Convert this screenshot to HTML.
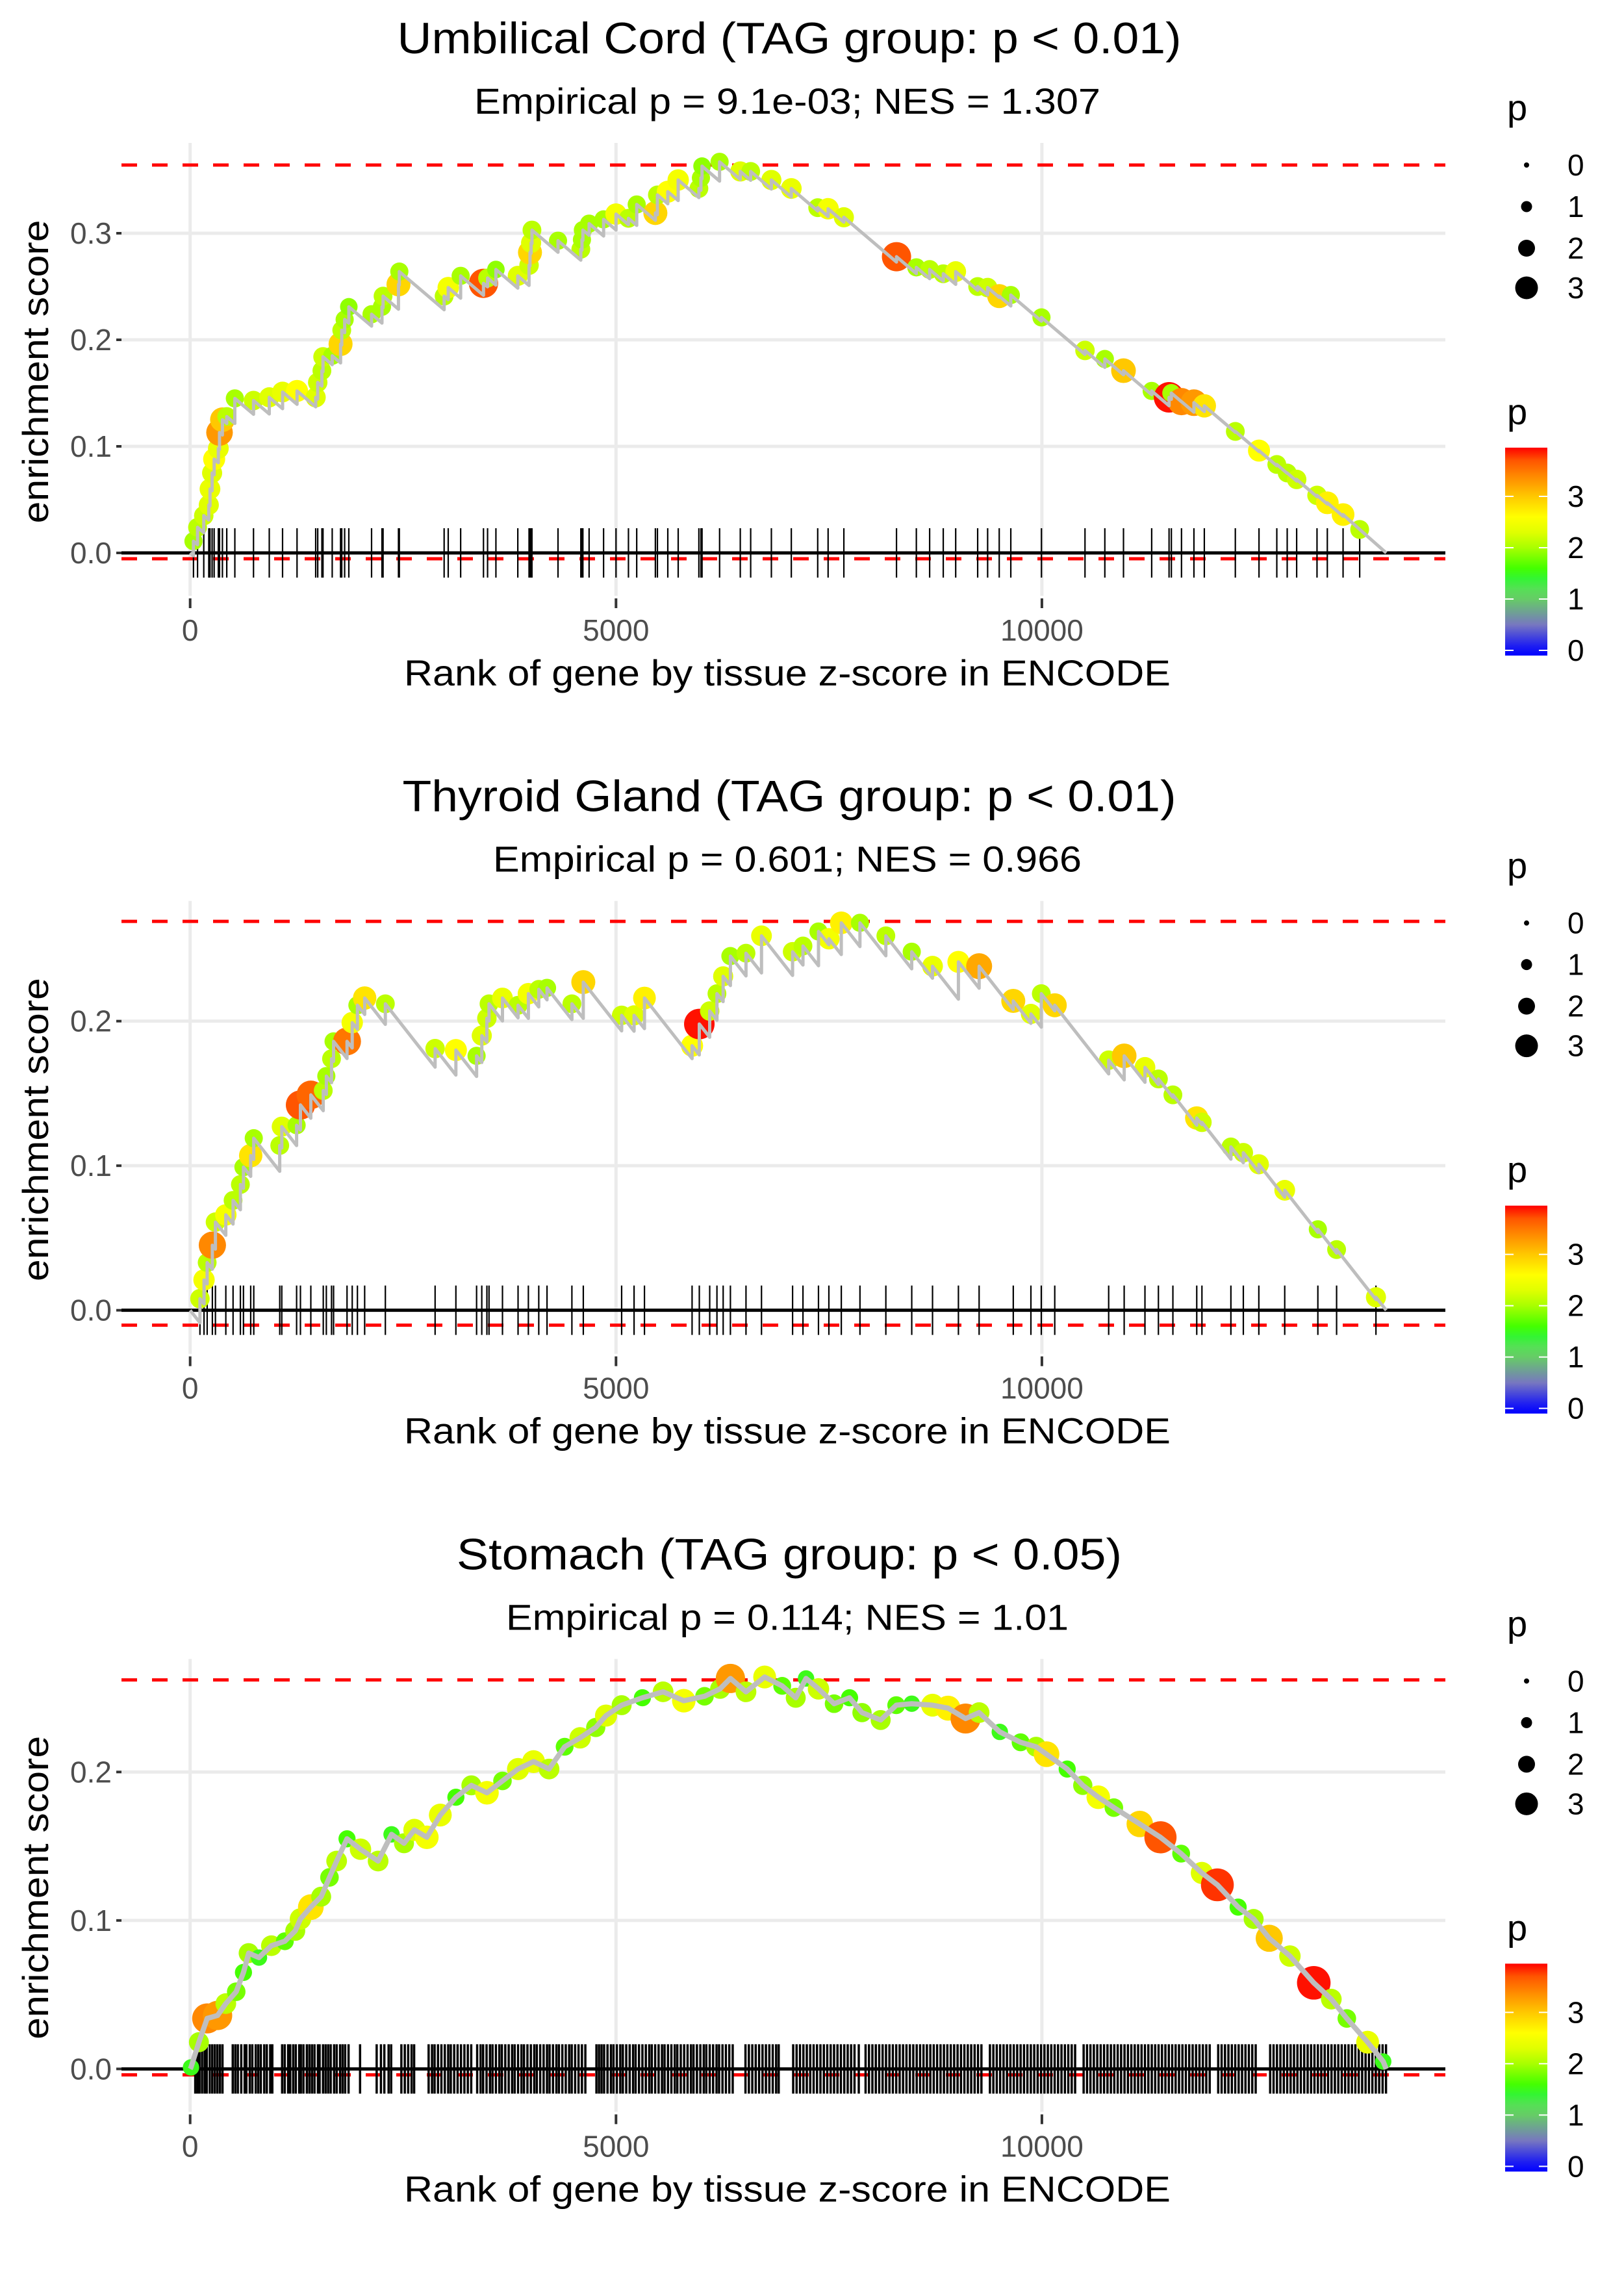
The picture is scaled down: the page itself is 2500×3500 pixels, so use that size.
<!DOCTYPE html>
<html><head><meta charset="utf-8"><title>Enrichment plots</title>
<style>
html,body{margin:0;padding:0;background:#fff;}
svg{display:block;font-family:"Liberation Sans",Arial,sans-serif;}
</style></head>
<body>
<svg id="chart" xmlns="http://www.w3.org/2000/svg" width="2500" height="3500" viewBox="0 0 2500 3500">
<defs>
<linearGradient id="pgrad" x1="0" y1="1" x2="0" y2="0"></linearGradient>
</defs>
<rect x="0" y="0" width="2500" height="3500" fill="#fff"/>
</svg>
<script>
// ---------- data ----------
const titles = ["Umbilical Cord (TAG group: p < 0.01)", "Thyroid Gland (TAG group: p < 0.01)", "Stomach (TAG group: p < 0.05)"];
const subtitles = ["Empirical p = 9.1e-03; NES = 1.307", "Empirical p = 0.601; NES = 0.966", "Empirical p = 0.114; NES = 1.01"];
const xTickValues = [0, 5000, 10000];
const xTickLabels = ["0", "5000", "10000"];
const yTicks1 = [0, 0.1, 0.2, 0.3];
const yTicks2 = [0, 0.1, 0.2];
const yTicks3 = [0, 0.1, 0.2];
const yTickLabels1 = ["0.0", "0.1", "0.2", "0.3"];
const yTickLabels2 = ["0.0", "0.1", "0.2"];
const yTickLabels3 = ["0.0", "0.1", "0.2"];
const nGenes = 14043;
const maxES = [0.364, 0.269, 0.262];
const minES = [-0.0055, -0.0103, -0.004];
const declinePerRank = [6.8e-5, 7.5e-5, null];

const ranks1 = [39,87,160,219,233,258,282,331,345,379,430,525,744,929,1085,1255,1474,1498,1547,1560,1668,1766,1780,1814,1863,2130,2252,2265,2446,2456,2982,3030,3176,3444,3492,3590,3847,3979,3990,4003,4013,4319,4587,4600,4611,4684,4854,5000,5146,5243,5462,5486,5608,5730,5973,5997,6010,6216,6459,6581,6824,7058,7368,7490,7675,8293,8526,8682,8842,8988,9246,9363,9499,9635,9995,10506,10739,10958,11289,11493,11520,11639,11785,11907,12271,12549,12758,12880,12991,13230,13351,13536,13731];
const es1 = [.011,.024,.035,.045,.060,.075,.088,.098,.113,.125,.128,.145,.143,.146,.151,.152,.146,.160,.171,.184,.185,.196,.209,.219,.231,.224,.231,.241,.252,.264,.241,.249,.260,.253,.258,.266,.260,.270,.282,.291,.303,.293,.285,.294,.303,.309,.313,.318,.314,.327,.319,.336,.339,.350,.342,.352,.363,.367,.358,.358,.350,.342,.324,.323,.315,.278,.268,.266,.262,.264,.250,.249,.241,.242,.221,.190,.182,.171,.152,.146,.150,.142,.141,.138,.114,.096,.083,.075,.069,.054,.047,.036,.022];
const p1 = [2.0,2.1,2.2,2.3,2.4,2.3,2.6,2.4,3.3,3.0,2.1,2.0,2.2,2.3,2.4,2.6,2.3,2.2,2.1,2.2,2.0,2.9,2.1,2.0,1.9,2.0,2.0,2.1,2.9,2.0,2.1,2.5,2.0,3.7,2.1,1.9,2.3,2.2,2.9,2.3,2.1,2.0,2.1,2.0,2.0,2.0,2.0,2.5,2.1,2.0,2.9,2.1,2.6,2.5,2.1,2.0,1.9,2.0,2.3,2.1,2.3,2.4,2.1,2.5,2.3,3.7,2.0,2.1,2.1,2.4,2.1,2.2,2.9,2.0,2.0,2.2,2.0,3.0,2.0,3.9,2.0,3.4,3.3,2.8,2.1,2.6,2.1,2.1,2.2,2.2,2.7,2.7,2.1];

const ranks2 = [115,163,200,261,297,419,504,590,626,711,747,1052,1076,1250,1295,1417,1563,1599,1660,1684,1842,1903,1964,2049,2292,2876,3120,3363,3424,3484,3509,3667,3850,3971,4093,4190,4482,4616,5066,5212,5334,5893,5978,6100,6185,6258,6343,6526,6708,7073,7195,7377,7499,7645,7864,8168,8472,8716,9020,9263,9664,9871,9993,10151,10784,10966,11210,11368,11538,11818,11879,12219,12365,12547,12851,13240,13460,13922];
const es2 = [.008,.021,.033,.045,.061,.066,.076,.087,.099,.107,.119,.114,.127,.128,.142,.149,.152,.162,.174,.186,.186,.199,.211,.216,.212,.181,.180,.176,.190,.202,.212,.216,.211,.219,.222,.223,.212,.227,.204,.204,.216,.183,.198,.207,.219,.231,.245,.247,.259,.248,.252,.262,.257,.268,.268,.259,.248,.238,.241,.238,.214,.205,.219,.211,.173,.176,.168,.160,.149,.133,.130,.113,.109,.101,.083,.056,.042,.009];
const p2 = [2.2,2.5,2.1,3.4,2.2,2.5,2.1,2.1,2.0,2.8,2.0,2.1,2.3,2.0,3.7,3.6,2.1,2.0,2.1,2.0,3.5,2.5,2.0,2.8,2.1,2.2,2.6,2.0,2.3,2.2,2.1,2.4,2.1,2.5,2.1,2.0,2.1,2.9,2.2,2.3,2.7,2.6,3.9,2.2,2.1,2.3,2.0,2.1,2.4,2.2,2.1,2.0,2.5,2.7,2.0,2.1,2.0,2.4,2.6,3.2,2.9,2.3,2.1,2.9,2.2,3.0,2.4,2.1,2.1,2.8,2.2,2.1,2.2,2.3,2.4,2.0,2.1,2.3];

const ranks3 = [10,103,200,322,419,541,626,687,808,954,1112,1234,1295,1417,1538,1636,1720,1842,2000,2207,2365,2511,2633,2779,2937,3120,3302,3485,3667,3850,4032,4214,4397,4579,4762,4883,5066,5310,5553,5796,6039,6222,6343,6526,6745,6951,7110,7231,7377,7560,7742,7888,8107,8290,8472,8716,8898,9104,9263,9506,9750,9932,10054,10297,10480,10662,10845,11149,11392,11635,11878,12060,12304,12486,12669,12912,13192,13398,13580,13824,14007];
const es3 = [.001,.018,.034,.036,.044,.052,.065,.078,.075,.083,.086,.093,.101,.109,.116,.129,.140,.155,.148,.140,.158,.152,.161,.156,.171,.183,.191,.186,.194,.202,.207,.202,.217,.223,.230,.238,.245,.250,.254,.248,.251,.256,.263,.254,.264,.258,.250,.263,.256,.246,.250,.240,.235,.245,.246,.245,.243,.236,.240,.227,.220,.217,.212,.202,.191,.183,.176,.165,.156,.145,.132,.124,.109,.101,.088,.076,.058,.047,.034,.018,.005];
const p3 = [1.5,2.0,3.4,3.3,2.1,1.8,1.6,2.0,1.5,2.1,1.7,2.0,2.2,2.8,2.0,1.8,2.1,1.6,2.2,2.1,1.5,2.0,2.3,2.5,2.4,1.6,2.0,2.5,1.8,2.3,2.4,2.1,1.7,2.2,1.9,2.3,2.0,1.6,2.1,2.5,1.8,2.0,3.3,2.1,2.4,1.7,2.0,1.5,2.2,1.8,1.6,1.9,2.0,1.7,1.5,2.4,2.7,3.4,2.1,1.5,1.7,2.0,2.8,1.6,1.9,2.5,1.8,2.9,3.7,1.7,2.3,3.8,1.6,2.0,3.0,2.2,3.9,2.1,1.8,2.4,1.5];
const rug3 = [60,85,110,140,170,195,230,260,290,320,350,380,500,530,560,600,640,660,700,730,770,800,830,870,900,940,965,1080,1110,1150,1175,1210,1240,1280,1300,1330,1370,1400,1430,1460,1500,1520,1560,1590,1620,1650,1690,1720,1760,1790,1820,1860,1995,2190,2240,2280,2330,2360,2480,2520,2560,2600,2630,2800,2840,2870,2910,2950,2990,3030,3060,3100,3140,3180,3220,3260,3300,3370,3410,3440,3480,3520,3550,3590,3630,3660,3700,3740,3780,3810,3850,3890,3920,3960,4000,4040,4070,4110,4150,4190,4220,4260,4300,4330,4370,4410,4450,4480,4520,4560,4600,4640,4770,4800,4830,4860,4900,4940,4970,5010,5050,5080,5120,5160,5200,5230,5270,5310,5350,5390,5420,5460,5500,5540,5570,5610,5650,5690,5720,5760,5800,5840,5880,5910,5950,5990,6030,6060,6100,6140,6180,6210,6250,6290,6330,6370,6520,6560,6600,6640,6680,6720,6760,6800,6840,6880,6910,7080,7120,7160,7200,7240,7280,7320,7360,7400,7440,7480,7520,7560,7600,7640,7680,7720,7760,7800,7850,7930,7970,8010,8050,8090,8130,8170,8210,8250,8290,8330,8370,8410,8450,8490,8530,8570,8610,8650,8690,8730,8770,8810,8850,8890,8930,8970,9010,9050,9090,9130,9170,9210,9250,9290,9390,9430,9470,9510,9550,9590,9630,9670,9710,9750,9790,9830,9870,9910,9950,9990,10030,10070,10110,10150,10190,10230,10270,10310,10350,10390,10490,10530,10570,10610,10650,10690,10730,10770,10810,10850,10890,10930,10970,11010,11050,11090,11130,11170,11210,11250,11290,11330,11370,11410,11450,11490,11530,11570,11610,11650,11690,11730,11770,11810,11850,11890,11930,11970,12070,12110,12150,12190,12230,12270,12310,12350,12390,12430,12470,12510,12680,12720,12760,12800,12840,12880,12920,12960,13000,13040,13080,13120,13160,13200,13240,13280,13320,13360,13400,13440,13480,13520,13560,13600,13640,13680,13720,13760,13800,13840,13880,13920,13960,14000,14040];

const sizeLegendValues = [0, 1, 2, 3];
const colorLegendTicks = [0, 1, 2, 3];
const colorLegendMax = 3.95;

// ---------- styling / scales ----------
const colorStops = [[-0.1,[0,0,255]],[0.1,[32,32,240]],[0.5,[119,119,192]],[1.0,[102,204,102]],[1.2,[85,224,85]],[1.4,[51,245,51]],[1.6,[68,255,0]],[2.0,[168,255,0]],[2.3,[224,255,0]],[2.6,[255,255,0]],[3.0,[255,200,0]],[3.4,[255,136,0]],[3.7,[255,85,0]],[3.95,[255,0,0]]];
function colorOf(v){
  if(v<=colorStops[0][0]) return rgb(colorStops[0][1]);
  for(let i=1;i<colorStops.length;i++){
    if(v<=colorStops[i][0]){
      const a=colorStops[i-1],b=colorStops[i];const t=(v-a[0])/(b[0]-a[0]);
      return rgb([0,1,2].map(k=>a[1][k]+(b[1][k]-a[1][k])*t));
    }
  }
  return rgb(colorStops[colorStops.length-1][1]);
}
function rgb(c){return 'rgb('+c.map(x=>Math.round(x)).join(',')+')';}
function sizeOf(v){return 4+4.5*v;}
function pointSize(v){return 4+5*v;}

const NS='http://www.w3.org/2000/svg';
const svg=document.getElementById('chart');
function mk(tag,parent,attrs){const e=document.createElementNS(NS,tag);for(const k in attrs)e.setAttribute(k,attrs[k]);parent.appendChild(e);return e;}

const PLOT_L=187, PLOT_R=2225, PLOT_T=220, PLOT_B=917;
const X0=292.7, XS=0.13112;
function xScale(r){return X0+r*XS;}
const panelY0=[851,850,851];
const panelYS=[1640,2225,2285];

const grad=document.getElementById('pgrad');
colorStops.forEach(s=>{
  const t=(s[0]-(-0.1))/(colorLegendMax-(-0.1));
  mk('stop',grad,{offset:t.toFixed(4),'stop-color':rgb(s[1])});
});

const allRanks=[ranks1,ranks2,ranks3], allES=[es1,es2,es3], allP=[p1,p2,p3];
const allYT=[yTicks1,yTicks2,yTicks3], allYTL=[yTickLabels1,yTickLabels2,yTickLabels3];
const titleLens=[1207,1191,1024], subLens=[964,906,866];

for(let k=0;k<3;k++){
  const g=mk('g',svg,{transform:'translate(0,'+(k*1166.67).toFixed(2)+')'});
  
  
  const y0=panelY0[k], ys=panelYS[k];
  const yScale=v=>y0-v*ys;

  const t=mk('text',g,{x:1215,y:82,'text-anchor':'middle','font-size':68,fill:'#000',textLength:titleLens[k],lengthAdjust:'spacingAndGlyphs'});
  t.textContent=titles[k];
  
  
  const st=mk('text',g,{x:1212,y:175,'text-anchor':'middle','font-size':56,fill:'#000',textLength:subLens[k],lengthAdjust:'spacingAndGlyphs'});
  st.textContent=subtitles[k];
  
  

  const grid=mk('g',g,{});
  
  
  allYT[k].forEach(v=>{
    const l=mk('line',grid,{x1:PLOT_L,x2:PLOT_R,y1:yScale(v),y2:yScale(v),stroke:'#ebebeb','stroke-width':5});
    
    
  });
  xTickValues.forEach(v=>{
    const l=mk('line',grid,{x1:xScale(v),x2:xScale(v),y1:PLOT_T,y2:PLOT_B,stroke:'#ebebeb','stroke-width':5});
    
    
  });

  allYT[k].forEach((v,i)=>{
    const tk=mk('line',g,{x1:179,x2:187,y1:yScale(v),y2:yScale(v),stroke:'#333','stroke-width':4});
    
    
    const tl=mk('text',g,{x:172,y:yScale(v)+16,'text-anchor':'end','font-size':46,fill:'#4d4d4d'});
    tl.textContent=allYTL[k][i];
    
    
  });
  xTickValues.forEach((v,i)=>{
    const tk=mk('line',g,{x1:xScale(v),x2:xScale(v),y1:921,y2:936,stroke:'#333','stroke-width':4});
    
    
    const tl=mk('text',g,{x:xScale(v),y:986,'text-anchor':'middle','font-size':46,fill:'#4d4d4d'});
    tl.textContent=xTickLabels[i];
    
    
  });
  const xt=mk('text',g,{x:1212,y:1055,'text-anchor':'middle','font-size':56,fill:'#000',textLength:1180,lengthAdjust:'spacingAndGlyphs'});
  xt.textContent='Rank of gene by tissue z-score in ENCODE';
  
  
  const yt=mk('text',g,{x:0,y:0,'text-anchor':'middle','font-size':56,fill:'#000',textLength:467,lengthAdjust:'spacingAndGlyphs',transform:'translate(74,572) rotate(-90)'});
  yt.textContent='enrichment score';
  
  

  [maxES[k],minES[k]].forEach((v,i)=>{
    const l=mk('line',g,{x1:PLOT_L,x2:PLOT_R,y1:yScale(v),y2:yScale(v),stroke:'#ff0000','stroke-width':5,'stroke-dasharray':'24 23'});
    
    
  });

  const ranks=allRanks[k], es=allES[k], pv=allP[k];
  const rug=mk('g',g,{stroke:'#000','stroke-width':k===2?3.5:2.2});
  
  
  const rugRanks=k===2?rug3:ranks;
  rugRanks.forEach(r=>{
    const l=mk('line',rug,{x1:xScale(r),x2:xScale(r),y1:y0-38,y2:y0+38});
    
    
  });
  const zl=mk('line',g,{x1:PLOT_L,x2:PLOT_R,y1:yScale(0),y2:yScale(0),stroke:'#000','stroke-width':5});
  
  

  const pts=mk('g',g,{});
  
  
  ranks.forEach((r,i)=>{
    const c=mk('circle',pts,{cx:xScale(r),cy:yScale(es[i]),r:pointSize(pv[i])*(k===2?1.1:1),fill:colorOf(pv[i])});
    
    
  });

  const dec=declinePerRank[k];
  let d='M'+xScale(0)+','+yScale(0);
  let prevR=0, prevE=0;
  const bottoms=[];
  ranks.forEach((r,i)=>{
    if(dec!==null){
      let b=prevE-dec*(r-prevR);
      if(b>es[i]) b=es[i];
      bottoms.push([r,b]);
      d+=' L'+xScale(r).toFixed(1)+','+yScale(b).toFixed(1);
    }
    d+=' L'+xScale(r).toFixed(1)+','+yScale(es[i]).toFixed(1);
    prevR=r; prevE=es[i];
  });
  d+=' L'+xScale(nGenes).toFixed(1)+','+yScale(0).toFixed(1);
  bottoms.forEach(b=>{
    const c=mk('circle',g,{cx:xScale(b[0]),cy:yScale(b[1]),r:2.2,fill:'#3030ff'});
    
    
  });
  const path=mk('path',g,{d:d,fill:'none',stroke:'#bebebe','stroke-width':k===2?8:5,'stroke-linejoin':'round'});
  
  

  const sl=mk('g',g,{});
  
  
  const slt=mk('text',sl,{x:2320,y:185,'font-size':56,fill:'#000'});
  slt.textContent='p';
  
  
  const sy=[254,318,382,443];
  sizeLegendValues.forEach((v,i)=>{
    const c=mk('circle',sl,{cx:2350,cy:sy[i],r:sizeOf(v),fill:'#000'});
    
    
    const tl=mk('text',sl,{x:2413,y:sy[i]+16,'font-size':46,fill:'#000'});
    tl.textContent=String(v);
    
    
  });
  const cl=mk('g',g,{});
  
  
  const clt=mk('text',cl,{x:2320,y:653,'font-size':56,fill:'#000'});
  clt.textContent='p';
  
  
  const bar=mk('rect',cl,{x:2317,y:689,width:65,height:320,fill:'url(#pgrad)'});
  
  
  colorLegendTicks.forEach(v=>{
    const yy=1001-79*v;
    const a=mk('line',cl,{x1:2317,x2:2330,y1:yy,y2:yy,stroke:'#fff','stroke-width':2});
    
    
    const b=mk('line',cl,{x1:2369,x2:2382,y1:yy,y2:yy,stroke:'#fff','stroke-width':2});
    
    
    const tl=mk('text',cl,{x:2413,y:yy+16,'font-size':46,fill:'#000'});
    tl.textContent=String(v);
    
    
  });
}
</script>
</body></html>
